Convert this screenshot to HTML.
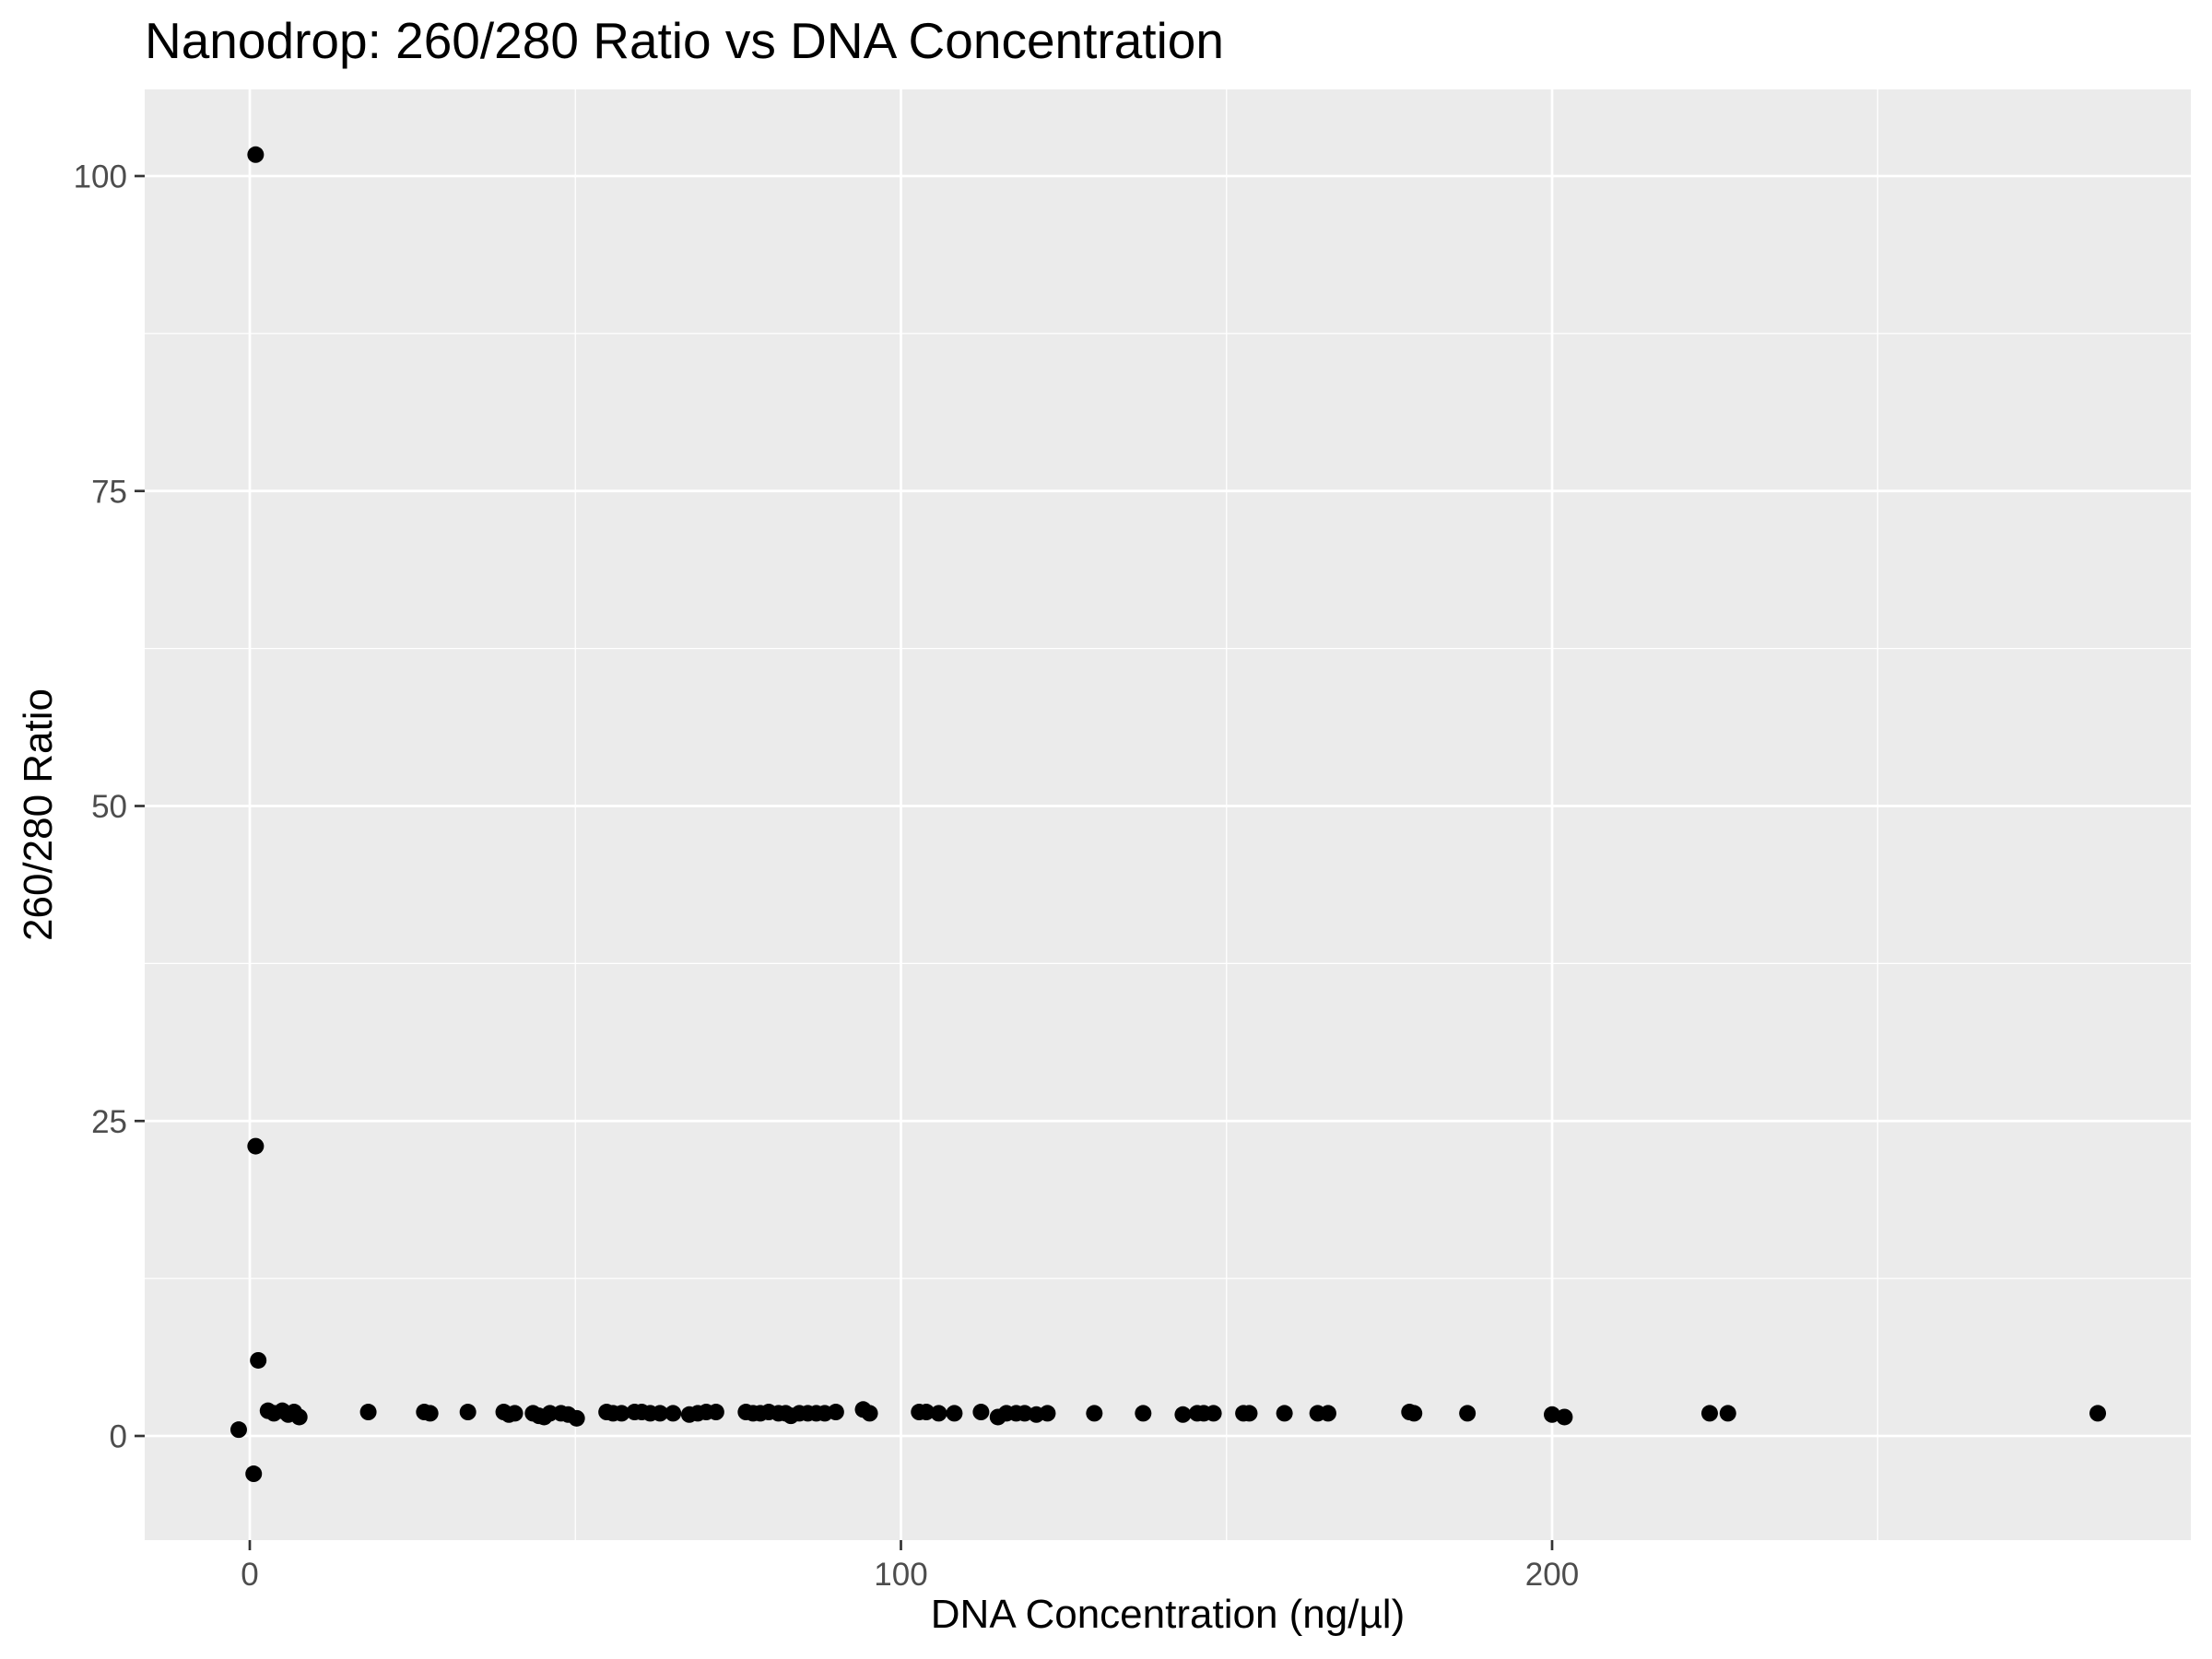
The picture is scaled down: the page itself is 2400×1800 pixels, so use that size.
<!DOCTYPE html>
<html><head><meta charset="utf-8"><style>
html,body{margin:0;padding:0;background:#fff}
svg{display:block;font-family:"Liberation Sans",Arial,sans-serif}
</style></head><body>
<svg id="chart" width="2400" height="1800" viewBox="0 0 2400 1800">
<rect x="0" y="0" width="2400" height="1800" fill="#fff"/>
<text x="157" y="63" font-size="55" fill="#000">Nanodrop: 260/280 Ratio vs DNA Concentration</text>
<rect x="157" y="97" width="2220" height="1574" fill="#EBEBEB"/>
<g id="grid"></g>
<g id="points"></g>
<g id="axes"></g>
<text x="1267" y="1766" font-size="44" text-anchor="middle" fill="#000">DNA Concentration (ng/µl)</text>
<text transform="translate(56,884) rotate(-90)" font-size="44" text-anchor="middle" fill="#000">260/280 Ratio</text>
</svg>
<script>
const xs = [-1.7,0.9,0.9,1.3,0.6,2.8,3.7,5,5.9,6.8,7.6,18.2,26.8,27.7,33.5,39,39.8,40.7,43.5,44.4,45.2,46.1,47.8,48.9,50.2,54.8,55.8,57.1,59.1,60.2,61.5,63,65,67.5,68.8,70.1,71.6,76.2,77.3,78.4,79.7,81.2,82.3,83.1,84.4,85.7,87,88.3,90,94.2,95.2,102.8,103.9,105.8,108.2,112.3,114.9,116.2,117.7,119,120.8,122.5,129.7,137.2,143.3,145.5,146.5,148,152.6,153.5,158.9,164,165.6,178.1,178.8,187,200,201.9,224.2,227,283.8];
const ys = [0.5,101.7,23,6,-3,2.0,1.8,2.0,1.7,1.9,1.5,1.9,1.9,1.8,1.9,1.9,1.7,1.8,1.8,1.6,1.5,1.8,1.8,1.7,1.4,1.9,1.8,1.8,1.9,1.9,1.8,1.8,1.8,1.7,1.8,1.9,1.9,1.9,1.8,1.8,1.9,1.8,1.8,1.6,1.8,1.8,1.8,1.8,1.9,2.1,1.8,1.9,1.9,1.8,1.8,1.9,1.5,1.8,1.8,1.8,1.7,1.8,1.8,1.8,1.7,1.8,1.8,1.8,1.8,1.8,1.8,1.8,1.8,1.9,1.8,1.8,1.7,1.5,1.8,1.8,1.8];
const xTicks = [0,100,200];
const yTicks = [0,25,50,75,100];
const xMinor = [50,150,250];
const yMinor = [12.5,37.5,62.5,87.5];

const NS="http://www.w3.org/2000/svg";
const L=157,R=2377,T=97,B=1671;
const X=v=>271+v*7.065;
const Y=v=>1558-v*13.67;
function mk(tag,attrs,parent){const e=document.createElementNS(NS,tag);for(const k in attrs)e.setAttribute(k,attrs[k]);parent.appendChild(e);return e;}
const grid=document.getElementById('grid'),pts=document.getElementById('points'),axes=document.getElementById('axes');
xMinor.forEach(v=>{const e=mk('line',{x1:X(v),x2:X(v),y1:T,y2:B,stroke:'#fff','stroke-width':1.3},grid);

});
yMinor.forEach(v=>{const e=mk('line',{x1:L,x2:R,y1:Y(v),y2:Y(v),stroke:'#fff','stroke-width':1.3},grid);

});
xTicks.forEach(v=>{const e=mk('line',{x1:X(v),x2:X(v),y1:T,y2:B,stroke:'#fff','stroke-width':2.7},grid);


const t=mk('line',{x1:X(v),x2:X(v),y1:B,y2:B+11,stroke:'#333','stroke-width':2.7},axes);


const l=mk('text',{x:X(v),y:B+49,'font-size':35,'text-anchor':'middle',fill:'#4D4D4D'},axes);l.textContent=v;

});
yTicks.forEach(v=>{const e=mk('line',{x1:L,x2:R,y1:Y(v),y2:Y(v),stroke:'#fff','stroke-width':2.7},grid);


const t=mk('line',{x1:L-11,x2:L,y1:Y(v),y2:Y(v),stroke:'#333','stroke-width':2.7},axes);


const l=mk('text',{x:L-19,y:Y(v)+12.5,'font-size':35,'text-anchor':'end',fill:'#4D4D4D'},axes);l.textContent=v;

});
xs.forEach((v,i)=>{const c=mk('circle',{cx:X(v),cy:Y(ys[i]),r:9,fill:'#000'},pts);

});
</script>
</body></html>
